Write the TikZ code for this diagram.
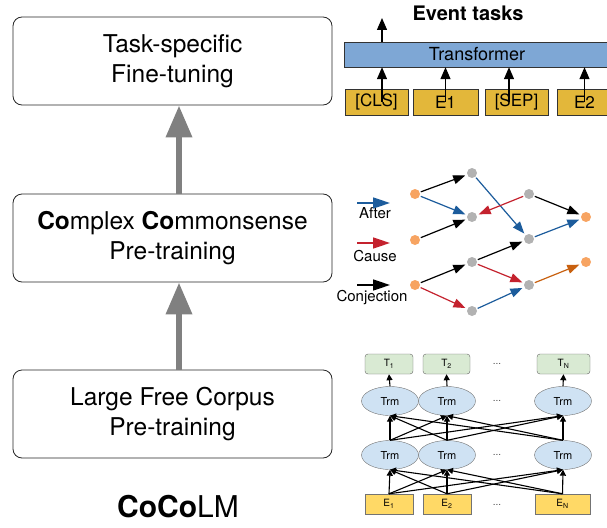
\documentclass[tikz,border=0pt]{standalone}
\usepackage{fontspec}
\setmainfont{TeX Gyre Heros}
\usetikzlibrary{arrows.meta,shapes.geometric}
\definecolor{transblue}{HTML}{7EA7D5}
\definecolor{tokgold}{HTML}{E3B73A}
\definecolor{relblue}{HTML}{1C5C9C}
\definecolor{relred}{HTML}{C4222E}
\definecolor{relorange}{HTML}{C8600F}
\definecolor{dotorange}{HTML}{F7A462}
\definecolor{dotgray}{HTML}{B2B2B2}
\definecolor{tgreen}{HTML}{D9EAD3}
\definecolor{trmblue}{HTML}{CFE2F3}
\definecolor{embyellow}{HTML}{FFD966}

\begin{document}
\begin{tikzpicture}[x=1pt,y=-1pt,
  stage/.style={draw=black!85, line width=0.8pt, rounded corners=9pt, minimum width=319pt,
    minimum height=88pt, align=center, font=\fontsize{24.5}{30}\selectfont},
  bigarrow/.style={draw=black!50, line width=6.5pt, -{Triangle[width=25pt,length=32pt]}},
  tok/.style={draw=black!80, fill=tokgold, minimum height=26pt, inner sep=0pt,
    font=\fontsize{17}{20}\selectfont},
  tokarrow/.style={line width=1.3pt, -{Triangle[width=10pt,length=12pt]}},
  evdot/.style={circle, inner sep=0pt, minimum size=10pt},
  rel/.style={line width=1.2pt, shorten >=2pt, shorten <=1pt, -{Triangle[width=9pt,length=12pt]}},
  legarrow/.style={line width=1.6pt, -{Triangle[width=11pt,length=17pt]}},
  legtext/.style={font=\fontsize{15}{17}\selectfont},
  tbox/.style={draw=black!60, fill=tgreen, rounded corners=3pt, minimum height=20pt, inner sep=0pt,
    font=\fontsize{10}{12}\selectfont},
  ebox/.style={draw=black!55, fill=embyellow, minimum height=20pt, inner sep=0pt,
    font=\fontsize{10}{12}\selectfont},
  trm/.style={ellipse, draw=black!55, fill=trmblue, minimum width=57pt, minimum height=29pt,
    inner sep=0pt, font=\fontsize{11}{13}\selectfont},
  bertarrow/.style={line width=1.1pt, -{Triangle[width=6pt,length=6pt]}},
  gap/.style={font=\fontsize{10}{12}\selectfont, text=black!70}]
  \useasboundingbox (0,0) rectangle (607,527);

  % Training stages
  \node[stage] (finetune) at (172.5,61) {Task-specific\\Fine-tuning};
  \node[stage] (ccpre) at (172.5,238) {\textbf{Co}mplex \textbf{Co}mmonsense\\Pre-training};
  \node[stage] (lfpre) at (172.5,414) {Large Free Corpus\\Pre-training};
  \node[font=\fontsize{30}{36}\selectfont] (cocolm) at (178,507) {\textbf{CoCo}LM};
  \draw[bigarrow] ([xshift=6.5]lfpre.north) -- ([xshift=6.5]ccpre.south);
  \draw[bigarrow] ([xshift=6.5]ccpre.north) -- ([xshift=6.5]finetune.south);

  % Event tasks
  \node[font=\bfseries\fontsize{20}{22}\selectfont] (evtitle) at (468,13) {Event tasks};
  \node[draw=black!80, fill=transblue, minimum width=266pt, minimum height=25pt, inner sep=0pt,
    font=\fontsize{18}{20}\selectfont] (transformer) at (477,54.5) {Transformer};
  \node[tok, minimum width=63pt] (tokcls) at (376.5,102) {[CLS]};
  \node[tok, minimum width=65pt] (toke1) at (445.5,102) {E1};
  \node[tok, minimum width=63pt] (toksep) at (516.5,102) {[SEP]};
  \node[tok, minimum width=55pt] (toke2) at (584.5,102) {E2};
  \coordinate (evout) at (382,18);
  \draw[tokarrow] ([xshift=5.5]tokcls.center) -- ([xshift=5.5]tokcls.center |- transformer.south);
  \draw[tokarrow] (toke1.center) -- (toke1.center |- transformer.south);
  \draw[tokarrow] ([xshift=-7.5]toksep.center) -- ([xshift=-7.5]toksep.center |- transformer.south);
  \draw[tokarrow] (toke2.center) -- (toke2.center |- transformer.south);
  \draw[tokarrow] (evout |- transformer.north) -- (evout);

  % Relation legend
  \coordinate (afterS) at (357,203);
  \coordinate (afterE) at (390,203);
  \coordinate (causeS) at (357,243);
  \coordinate (causeE) at (390,243);
  \coordinate (conjS) at (357,285);
  \coordinate (conjE) at (390,285);
  \draw[legarrow, relblue] (afterS) -- (afterE);
  \draw[legarrow, relred] (causeS) -- (causeE);
  \draw[legarrow, black] (conjS) -- (conjE);
  \node[legtext] (afterlbl) at (375,213) {After};
  \node[legtext] (causelbl) at (375,256) {Cause};
  \node[legtext] (conjlbl) at (372,298) {Conjection};

  % Eventuality graph
  \node[evdot, fill=dotorange] (o1) at (415,194) {};
  \node[evdot, fill=dotorange] (o2) at (415,240) {};
  \node[evdot, fill=dotorange] (o4) at (415,285) {};
  \node[evdot, fill=dotgray] (g1) at (472,173) {};
  \node[evdot, fill=dotgray] (g2) at (472,217) {};
  \node[evdot, fill=dotgray] (g5) at (472,262) {};
  \node[evdot, fill=dotgray] (g6) at (472,311) {};
  \node[evdot, fill=dotgray] (g3) at (529,194) {};
  \node[evdot, fill=dotgray] (g4) at (529,239) {};
  \node[evdot, fill=dotgray] (g7) at (529,285) {};
  \node[evdot, fill=dotorange] (o3) at (586,217) {};
  \node[evdot, fill=dotorange] (o5) at (586,262) {};
  \draw[rel, black] (o1) -- (g1);
  \draw[rel, relblue] (o1) -- (g2);
  \draw[rel, black] (o2) -- (g2);
  \draw[rel, relblue] (g1) -- (g4);
  \draw[rel, relred] (g3) -- (g2);
  \draw[rel, black] (g3) -- (o3);
  \draw[rel, relblue] (g4) -- (o3);
  \draw[rel, black] (o4) -- (g5);
  \draw[rel, relred] (o4) -- (g6);
  \draw[rel, black] (g5) -- (g4);
  \draw[rel, relred] (g5) -- (g7);
  \draw[rel, relblue] (g6) -- (g7);
  \draw[rel, relorange] (g7) -- (o5);

  % Transformer encoder
  \node[tbox, minimum width=48pt] (t1) at (389,364) {T\textsubscript{1}};
  \node[tbox, minimum width=47pt] (t2) at (446.5,364) {T\textsubscript{2}};
  \node[tbox, minimum width=53pt] (tN) at (563.5,364) {T\textsubscript{N}};
  \node[trm] (trmA1) at (390,401) {Trm};
  \node[trm] (trmA2) at (447,401) {Trm};
  \node[trm] (trmAN) at (563,401) {Trm};
  \node[trm] (trmB1) at (390,455) {Trm};
  \node[trm] (trmB2) at (447,455) {Trm};
  \node[trm] (trmBN) at (563,455) {Trm};
  \node[ebox, minimum width=48pt] (emb1) at (389,504) {E\textsubscript{1}};
  \node[ebox, minimum width=48pt] (emb2) at (447,504) {E\textsubscript{2}};
  \node[ebox, minimum width=55pt] (embN) at (562.5,504) {E\textsubscript{N}};
  \node[gap] (dotsT) at (497,364) {...};
  \node[gap] (dotsA) at (497,401) {...};
  \node[gap] (dotsB) at (497,455) {...};
  \node[gap] (dotsE) at (497,505) {...};
  \foreach \i in {1,2,N} {
    \draw[bertarrow] (trmA\i.north) -- (t\i.south);
    \foreach \j in {1,2,N} {
      \draw[bertarrow] (emb\i.north) -- (trmB\j.south);
      \draw[bertarrow] (trmB\i.north) -- (trmA\j.south);
    }
  }
\end{tikzpicture}
\end{document}
